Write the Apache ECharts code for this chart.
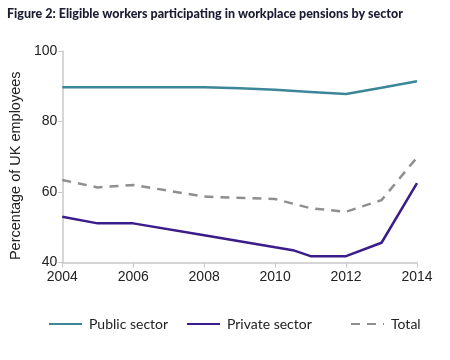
<!DOCTYPE html>
<html><head><meta charset="utf-8">
<script src="https://cdn.jsdelivr.net/npm/echarts@6/dist/echarts.min.js"></script>
<style>html,body{margin:0;padding:0;background:#fff;}#c{width:450px;height:360px;}</style>
</head><body><div id="c"></div>
<script>
const titleText = 'Figure 2: Eligible workers participating in workplace pensions by sector';
const yAxisName = 'Percentage of UK employees';
const seriesNames = ['Public sector', 'Private sector', 'Total'];

const publicYears = [2004, 2008, 2009, 2010, 2011, 2012, 2013, 2014];
const publicVals  = [89.7, 89.7, 89.4, 89.0, 88.4, 87.8, 89.6, 91.4];

const privateYears = [2004, 2005, 2006, 2008, 2010, 2010.5, 2011, 2012, 2013, 2014];
const privateVals  = [53.0, 51.1, 51.1, 47.7, 44.3, 43.5, 41.8, 41.8, 45.6, 62.5];

const totalYears = [2004, 2005, 2006, 2008, 2010, 2011, 2012, 2013, 2014];
const totalVals  = [63.4, 61.3, 62.0, 58.7, 58.0, 55.4, 54.4, 57.7, 69.8];

const xTicks = { min: 2004, max: 2014, interval: 2 };
const yTicks = { min: 40, max: 100, interval: 20 };

const pair = (xs, ys) => xs.map((x, i) => [x, ys[i]]);

const chart = echarts.init(document.getElementById('c'));
const legendBase = {
  orient: 'horizontal', top: 312, itemWidth: 33, itemHeight: 10, itemGap: 0,
  itemStyle: { opacity: 0 },
  textStyle: { fontFamily: 'Lato', fontSize: 14, color: '#222', padding: [0, 0, 0, 2] },
  selectedMode: false
};
chart.setOption({
  animation: false,
  title: {
    text: titleText, left: 2, top: 2,
    textStyle: { fontFamily: 'Lato', fontWeight: 900, fontSize: 12.5, color: '#1b1b33' }
  },
  legend: [
    Object.assign({}, legendBase, { left: 43, data: [seriesNames[0]] }),
    Object.assign({}, legendBase, { left: 181, data: [seriesNames[1]] }),
    Object.assign({}, legendBase, { left: 345, data: [seriesNames[2]] })
  ],
  grid: { left: 47, right: 33, top: 51, bottom: 97.5, containLabel: false },
  xAxis: {
    type: 'value', min: xTicks.min, max: xTicks.max, interval: xTicks.interval,
    axisLine: { show: true, lineStyle: { color: '#c8c8c8', width: 1.5 } },
    axisTick: { show: true, length: 5, lineStyle: { color: '#c8c8c8' } },
    axisLabel: { margin: 8, fontFamily: 'Liberation Sans', fontSize: 14, color: '#222',
      formatter: v => String(v) },
    splitLine: { show: false }
  },
  yAxis: {
    type: 'value', min: yTicks.min, max: yTicks.max, interval: yTicks.interval,
    name: yAxisName, nameLocation: 'middle', nameGap: 30,
    nameTextStyle: { fontFamily: 'Liberation Sans', fontSize: 14.5, color: '#222', padding: [0, 0, 0, -18] },
    axisLine: { show: true, lineStyle: { color: '#c8c8c8', width: 1.5 } },
    axisTick: { show: true, length: 4, lineStyle: { color: '#c8c8c8' } },
    axisLabel: { margin: 5, fontFamily: 'Liberation Sans', fontSize: 14, color: '#222' },
    splitLine: { show: false }
  },
  series: [
    { name: seriesNames[0], type: 'line', data: pair(publicYears, publicVals), symbol: 'none',
      lineStyle: { color: '#3b8799', width: 2.5 }, itemStyle: { color: '#3b8799' } },
    { name: seriesNames[1], type: 'line', data: pair(privateYears, privateVals), symbol: 'none',
      lineStyle: { color: '#3a1c8a', width: 2.5 }, itemStyle: { color: '#3a1c8a' } },
    { name: seriesNames[2], type: 'line', data: pair(totalYears, totalVals), symbol: 'none',
      lineStyle: { color: '#8f8f8f', width: 2.5, type: [9, 7] }, itemStyle: { color: '#8f8f8f' } }
  ]
});
</script></body></html>
